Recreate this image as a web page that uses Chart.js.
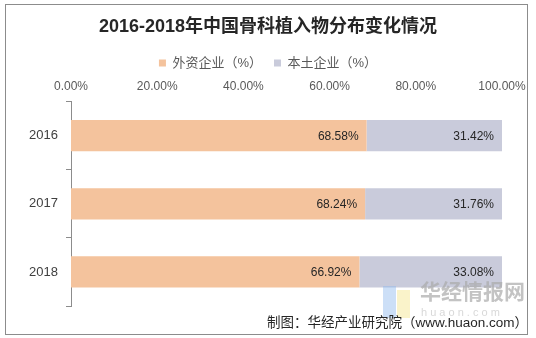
<!DOCTYPE html>
<html>
<head>
<meta charset="utf-8">
<script src="https://cdn.jsdelivr.net/npm/chart.js@4"></script>
<style>
    html, body { margin: 0; padding: 0; background: #fff; }
    #wrap { position: relative; width: 536px; height: 338px; }
    #frame { position: absolute; left: 5px; top: 4px; width: 521px; height: 329px; border: 1px solid #8c8c8c; pointer-events: none; }
</style>
</head>
<body>
<div id="wrap">
    <canvas id="shareChart" width="536" height="338"></canvas>
    <div id="frame"></div>
</div>
<script>
const years = ['2016', '2017', '2018'];
const foreignShare = [68.58, 68.24, 66.92];
const domesticShare = [31.42, 31.76, 33.08];
const seriesNames = ['外资企业（%）', '本土企业（%）'];
const tickValues = [0, 20, 40, 60, 80, 100];
const sourceNote = '制图：华经产业研究院（www.huaon.com）';

const FONT = "'Liberation Sans', 'Noto Sans CJK SC', sans-serif";

// Write the percentage inside the right end of every bar
const barLabels = {
    id: 'barLabels',
    afterDatasetsDraw(chart) {
        const ctx = chart.ctx;
        ctx.save();
        ctx.font = '12px ' + FONT;
        ctx.fillStyle = '#262626';
        ctx.textAlign = 'right';
        ctx.textBaseline = 'middle';
        chart.data.datasets.forEach((ds, i) => {
            chart.getDatasetMeta(i).data.forEach((bar, j) => {
                ctx.fillText(ds.data[j].toFixed(2) + '%', bar.x - 8, bar.y + 1);
            });
        });
        ctx.restore();
    }
};

// Source line and faint site mark in the lower right corner
const footer = {
    id: 'footer',
    afterDraw(chart) {
        const ctx = chart.ctx;
        ctx.save();
        ctx.globalAlpha = 0.45;
        ctx.fillStyle = '#8fb8ee';
        ctx.fillRect(383, 286, 13, 32);
        ctx.fillStyle = '#f5e58a';
        ctx.fillRect(397, 290, 13, 28);
        ctx.globalAlpha = 1;
        ctx.fillStyle = 'rgba(170,170,170,0.7)';
        ctx.font = 'bold 21px ' + FONT;
        ctx.textAlign = 'left';
        ctx.textBaseline = 'middle';
        ctx.fillText('华经情报网', 420, 293);
        ctx.font = '11px ' + FONT;
        ctx.fillStyle = 'rgba(190,190,190,0.6)';
        ctx.fillText('h u a o n . c o m', 421, 313);
        ctx.fillStyle = '#262626';
        ctx.font = '13.5px ' + FONT;
        ctx.textAlign = 'right';
        ctx.fillText(sourceNote, 528, 323);
        ctx.restore();
    }
};

new Chart(document.getElementById('shareChart'), {
    type: 'bar',
    data: {
        labels: years,
        datasets: [
            {
                label: seriesNames[0],
                data: foreignShare,
                backgroundColor: '#f4c39d',
                categoryPercentage: 1,
                barPercentage: 0.46
            },
            {
                label: seriesNames[1],
                data: domesticShare,
                backgroundColor: '#c9cbdb',
                categoryPercentage: 1,
                barPercentage: 0.46
            }
        ]
    },
    options: {
        indexAxis: 'y',
        responsive: false,
        animation: false,
        layout: {
            padding: { left: 5, right: 5, top: 4, bottom: 32 }
        },
        scales: {
            x: {
                position: 'top',
                stacked: true,
                min: 0,
                max: 100,
                afterBuildTicks(scale) {
                    scale.ticks = tickValues.map(v => ({ value: v }));
                },
                afterFit(scale) {
                    // fixed band for the tick labels; plot ends at 502px
                    scale.height = 22;
                    scale.paddingRight = 34;
                },
                grid: { display: false, drawTicks: false },
                border: { display: false },
                ticks: {
                    color: '#595959',
                    font: { family: FONT, size: 12 },
                    padding: 8,
                    maxRotation: 0,
                    callback: v => v.toFixed(2) + '%'
                }
            },
            y: {
                stacked: true,
                afterFit(scale) {
                    scale.width = 66;
                },
                grid: {
                    drawOnChartArea: false,
                    drawTicks: true,
                    tickLength: 5,
                    color: '#8c8c8c'
                },
                border: { display: true, color: '#8c8c8c' },
                ticks: {
                    color: '#404040',
                    font: { family: FONT, size: 13 },
                    padding: 8
                }
            }
        },
        plugins: {
            title: {
                display: true,
                text: '2016-2018年中国骨科植入物分布变化情况',
                color: '#262626',
                font: { family: FONT, size: 18, weight: 'bold' },
                padding: { top: 12, bottom: 7 }
            },
            legend: {
                position: 'top',
                labels: {
                    color: '#595959',
                    font: { family: FONT, size: 13 },
                    boxWidth: 7,
                    boxHeight: 7,
                    padding: 12
                }
            },
            tooltip: { enabled: false }
        }
    },
    plugins: [barLabels, footer]
});
</script>
</body>
</html>
